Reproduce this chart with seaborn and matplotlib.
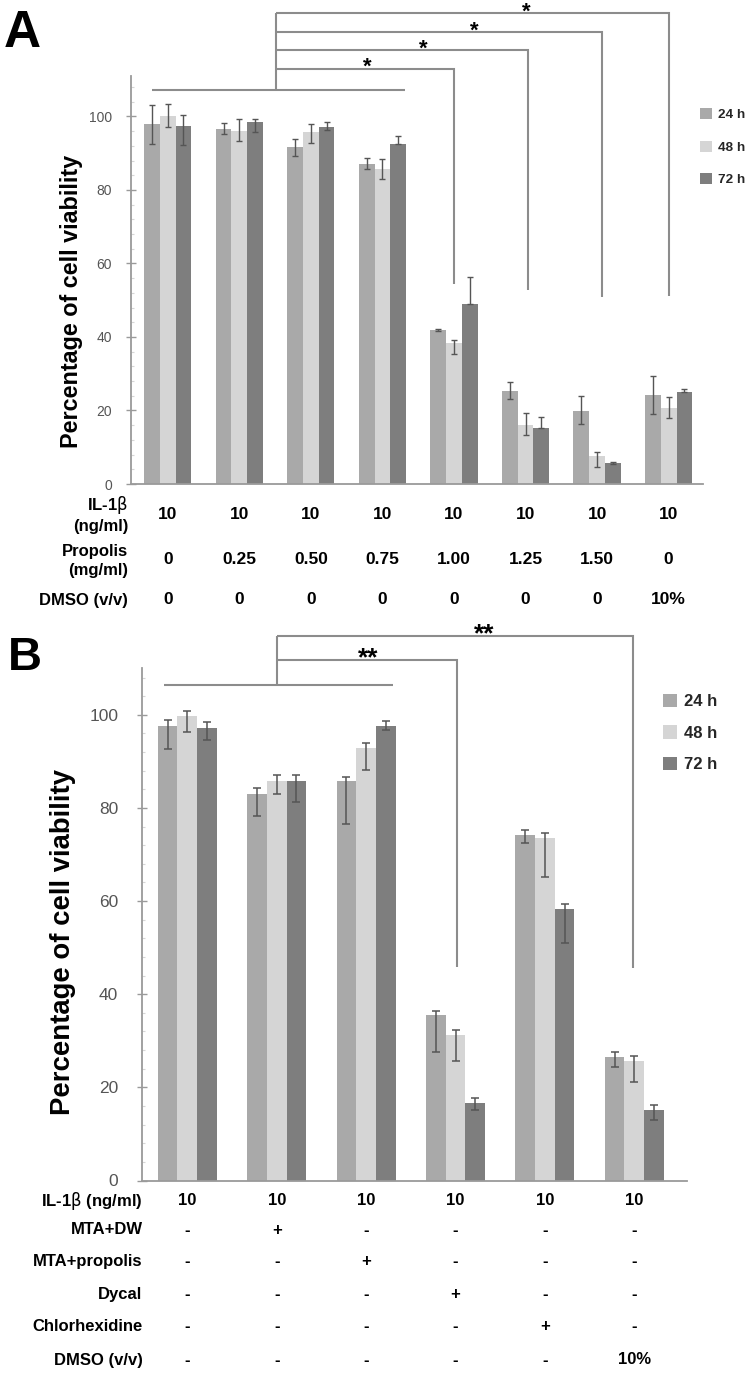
import numpy as np
import pandas as pd
import matplotlib
matplotlib.use("Agg")
import matplotlib.pyplot as plt
import seaborn as sns
from matplotlib.patches import Patch
from matplotlib.transforms import blended_transform_factory
from matplotlib.ticker import MultipleLocator

# ---------------- data ----------------
times = ["24 h", "48 h", "72 h"]
bar_colors = ["#a9a9a9", "#d5d5d5", "#7e7e7e"]

# Panel A
a_groups = ["ctrl", "p0.25", "p0.50", "p0.75", "p1.00", "p1.25", "p1.50", "dmso"]
a_24 = [97.9, 96.6, 91.6, 87.0, 41.9, 25.4, 19.9, 24.1]
a_48 = [100.1, 96.1, 95.7, 85.8, 38.3, 16.1, 7.6, 20.7]
a_72 = [97.3, 98.6, 97.0, 92.4, 48.9, 15.3, 5.7, 25.0]
a_24_up = [5.3, 1.6, 2.2, 1.6, 0.4, 2.4, 4.0, 5.3]
a_24_lo = [5.3, 1.4, 2.3, 1.3, 0.4, 2.3, 3.6, 5.1]
a_48_up = [3.4, 3.1, 2.3, 2.7, 0.8, 3.2, 1.0, 2.9]
a_48_lo = [3.0, 2.8, 2.9, 2.8, 3.0, 2.8, 2.9, 2.8]
a_72_up = [3.0, 0.6, 1.6, 2.2, 7.4, 2.9, 0.3, 0.9]
a_72_lo = [5.1, 2.8, 0.7, 0.0, 0.0, 0.0, 0.3, 0.0]
a_row_labels = ["IL-1$\\mathrm{\\beta}$\n(ng/ml)", "Propolis\n(mg/ml)", "DMSO (v/v)"]
a_il1b = ["10", "10", "10", "10", "10", "10", "10", "10"]
a_propolis = ["0", "0.25", "0.50", "0.75", "1.00", "1.25", "1.50", "0"]
a_dmso = ["0", "0", "0", "0", "0", "0", "0", "10%"]

# Panel B
b_groups = ["ctrl", "mta_dw", "mta_prop", "dycal", "chx", "dmso"]
b_24 = [97.7, 83.1, 85.7, 35.5, 74.3, 26.6]
b_48 = [99.8, 85.9, 92.9, 31.2, 73.5, 25.7]
b_72 = [97.2, 85.9, 97.6, 16.7, 58.4, 15.1]
b_24_up = [1.2, 1.1, 1.0, 1.0, 1.0, 1.1]
b_24_lo = [5.1, 4.8, 9.1, 8.0, 1.8, 2.3]
b_48_up = [1.1, 1.2, 1.0, 1.1, 1.2, 1.0]
b_48_lo = [3.4, 3.0, 4.7, 5.6, 8.3, 4.6]
b_72_up = [1.2, 1.1, 1.1, 1.1, 1.0, 1.2]
b_72_lo = [2.6, 4.7, 0.9, 1.5, 7.5, 2.1]
b_row_labels = ["IL-1$\\mathrm{\\beta}$ (ng/ml)", "MTA+DW", "MTA+propolis", "Dycal",
                "Chlorhexidine", "DMSO (v/v)"]
b_il1b = ["10", "10", "10", "10", "10", "10"]
b_mta_dw = ["-", "+", "-", "-", "-", "-"]
b_mta_prop = ["-", "-", "+", "-", "-", "-"]
b_dycal = ["-", "-", "-", "+", "-", "-"]
b_chx = ["-", "-", "-", "-", "+", "-"]
b_dmso = ["-", "-", "-", "-", "-", "10%"]

# ---------------- style ----------------
sns.set_theme(style="white")
plt.rcParams["font.family"] = ["Liberation Sans", "DejaVu Sans"]
plt.rcParams["mathtext.fontset"] = "dejavusans"

W, H = 750, 1376
fig = plt.figure(figsize=(W / 100, H / 100), dpi=100)
fig.patch.set_facecolor("white")


def fx(px):
    return px / W


def fy(py):
    return 1 - py / H


AX_GRAY = "#9a9a9a"
BR_GRAY = "#8c8c8c"
ERR_GRAY = "#555555"


def make_panel(rect, groups, vals, ups, los, ylim, xlim, tick_size, tick_pad,
               capsize, err_lw):
    ax = fig.add_axes(rect)
    rows = []
    for t, v in zip(times, vals):
        for g, val in zip(groups, v):
            rows.append({"group": g, "time": t, "value": val})
    df = pd.DataFrame(rows)
    sns.barplot(data=df, x="group", y="value", hue="time", order=groups,
                hue_order=times, palette=bar_colors, width=0.66, errorbar=None,
                saturation=1, linewidth=0, legend=False, ax=ax)
    for cont, up, lo in zip(ax.containers, ups, los):
        xs = [b.get_x() + b.get_width() / 2 for b in cont]
        ys = [b.get_height() for b in cont]
        ax.errorbar(xs, ys, yerr=[lo, up], fmt="none", ecolor=ERR_GRAY,
                    elinewidth=err_lw, capsize=capsize, capthick=err_lw, zorder=5)
    ax.set_xlim(*xlim)
    ax.set_ylim(*ylim)
    ax.set_xticks([])
    ax.set_xlabel("")
    ax.set_ylabel("")
    ax.set_yticks([0, 20, 40, 60, 80, 100])
    ax.yaxis.set_minor_locator(MultipleLocator(4))
    ax.tick_params(axis="y", which="major", direction="inout", length=6.5,
                   width=1.0, color=AX_GRAY, labelsize=tick_size,
                   labelcolor="#555555", pad=tick_pad, left=True)
    ax.tick_params(axis="y", which="minor", direction="in", length=2.5,
                   width=0.8, color="#d6d6d6", left=True)
    sns.despine(ax=ax)
    for s in ["left", "bottom"]:
        ax.spines[s].set_color(AX_GRAY)
        ax.spines[s].set_linewidth(1.3)
    ax.set_facecolor("white")
    return ax


def bracket_line(ax, xs, ys, lw=1.5):
    ax.plot(xs, ys, color=BR_GRAY, lw=lw, clip_on=False,
            solid_capstyle="butt", solid_joinstyle="miter", zorder=6)


def legend(ax, x_px, y_px, size, hl, hts, ls):
    handles = [Patch(facecolor=c, edgecolor="none", label=t)
               for c, t in zip(bar_colors, times)]
    ax.legend(handles=handles, loc="upper left",
              bbox_to_anchor=(fx(x_px), fy(y_px)), bbox_transform=fig.transFigure,
              frameon=False, prop={"weight": "bold", "size": size},
              handlelength=hl, handleheight=hl, handletextpad=hts,
              labelspacing=ls, borderpad=0, borderaxespad=0)


# ================= Panel A =================
axA = make_panel([fx(131), fy(484), fx(703) - fx(131), (484 - 76) / H],
                 a_groups, [a_24, a_48, a_72], [a_24_up, a_48_up, a_72_up],
                 [a_24_lo, a_48_lo, a_72_lo], (0, 111), (-0.513, 7.48),
                 10, 10.4, 2.5, 1.0)
axA.set_ylabel("Percentage of cell viability", fontsize=16.8, fontweight="bold",
               color="black")
axA.yaxis.set_label_coords(fx(72), fy(301), transform=fig.transFigure)
axA.yaxis.label.set_va("center")

# significance brackets A
bracket_line(axA, [-0.22, 3.31], [107.3, 107.3])
bracket_line(axA, [1.52, 1.52], [107.3, 128.1])
a_targets = [4.0, 5.04, 6.07, 7.0]
a_levels = [113.0, 118.1, 122.9, 128.1]
a_bottoms = [54.3, 52.7, 50.9, 51.1]
a_star_x = [2.79, 3.57, 4.29, 5.01]
for xt, lv, bt, sx in zip(a_targets, a_levels, a_bottoms, a_star_x):
    bracket_line(axA, [1.52, xt, xt], [lv, lv, bt])
    axA.text(sx, lv + 0.3, "*", ha="center", va="center", fontsize=16,
             fontweight="bold", color="black", clip_on=False)

legend(axA, 700, 108, 9.7, 0.89, 0.45, 1.44)

# table A
trA = blended_transform_factory(axA.transData, fig.transFigure)
a_rows = [a_il1b, a_propolis, a_dmso]
a_label_y = [514, 561, 600]
a_value_y = [515, 559.3, 600]
for lab, vals, ly, vy in zip(a_row_labels, a_rows, a_label_y, a_value_y):
    fig.text(fx(128), fy(ly), lab, ha="right", va="center", multialignment="right",
             fontsize=12, fontweight="bold", linespacing=1.3, color="black")
    for i, v in enumerate(vals):
        axA.text(i, fy(vy), v, transform=trA, ha="center", va="center",
                 fontsize=12.5, fontweight="bold", color="black")

fig.text(fx(4), fy(46.7), "A", fontsize=37, fontweight="bold", ha="left",
         va="baseline", color="black")

# ================= Panel B =================
axB = make_panel([fx(142), fy(1180.5), fx(686.6) - fx(142), (1180.5 - 668.3) / H],
                 b_groups, [b_24, b_48, b_72], [b_24_up, b_48_up, b_72_up],
                 [b_24_lo, b_48_lo, b_72_lo], (0, 110), (-0.507, 5.585),
                 12.5, 13.8, 3.1, 1.1)
axB.set_ylabel("Percentage of cell viability", fontsize=19.8, fontweight="bold",
               color="black")
axB.yaxis.set_label_coords(fx(63.5), fy(941.7), transform=fig.transFigure)
axB.yaxis.label.set_va("center")

bracket_line(axB, [-0.265, 2.30], [106.5, 106.5])
bracket_line(axB, [1.0, 1.0], [106.5, 117.0])
b_targets = [3.02, 4.98]
b_levels = [111.8, 117.0]
b_bottoms = [45.9, 45.7]
b_star_x = [2.02, 3.32]
for xt, lv, bt, sx in zip(b_targets, b_levels, b_bottoms, b_star_x):
    bracket_line(axB, [1.0, xt, xt], [lv, lv, bt])
    axB.text(sx, lv + 0.3, "**", ha="center", va="center", fontsize=19,
             fontweight="bold", color="black", clip_on=False)

legend(axB, 662.7, 694, 12, 0.84, 0.42, 0.96)

trB = blended_transform_factory(axB.transData, fig.transFigure)
b_rows = [b_il1b, b_mta_dw, b_mta_prop, b_dycal, b_chx, b_dmso]
b_row_y = [1200.7, 1230, 1261.7, 1294, 1326.7, 1360]
for lab, vals, ry in zip(b_row_labels, b_rows, b_row_y):
    fig.text(fx(142.6), fy(ry), lab, ha="right", va="center", fontsize=12,
             fontweight="bold", color="black")
    for i, v in enumerate(vals):
        axB.text(i, fy(ry), v, transform=trB, ha="center", va="center",
                 fontsize=12, fontweight="bold", color="black")

fig.text(fx(8), fy(670), "B", fontsize=34, fontweight="bold", ha="left",
         va="baseline", color="black")

fig.savefig("out.png", dpi=100, facecolor="white")
